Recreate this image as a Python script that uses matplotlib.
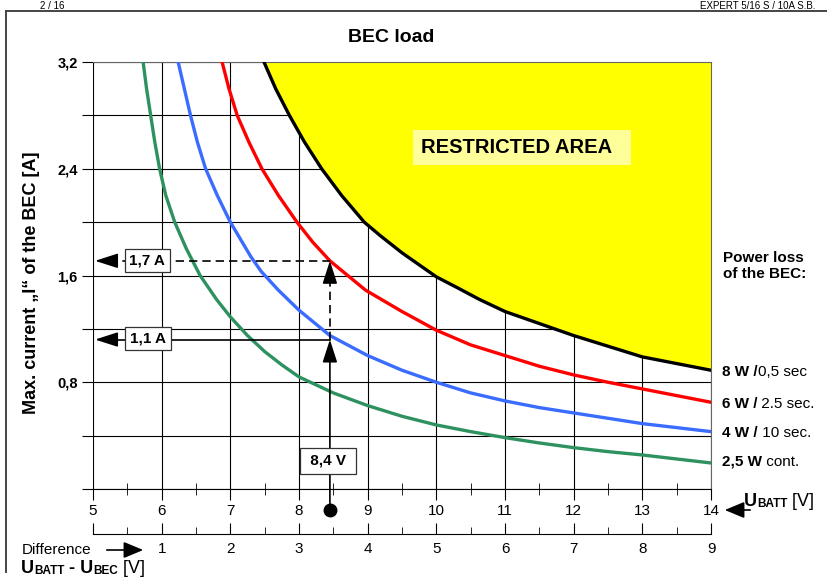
import matplotlib.pyplot as plt
from matplotlib.patches import FancyArrowPatch
from matplotlib.lines import Line2D

plt.rcParams['font.family'] = ['Liberation Sans', 'DejaVu Sans']

# battery voltage U_BATT [V] and max. BEC current [A]
u_green = [5.73, 5.78, 5.84, 5.90, 5.97, 6.06, 6.19, 6.36, 6.56, 6.8, 7.0, 7.25, 7.5, 7.75,
           8.0, 8.5, 9.0, 9.5, 10.0, 10.5, 11.0, 11.5, 12.0, 12.5, 13.0, 13.5, 14.0]
i_green = [3.2, 3.0, 2.8, 2.6, 2.4, 2.2, 2.0, 1.8, 1.6, 1.42, 1.29, 1.15, 1.03, 0.93,
           0.84, 0.72, 0.625, 0.545, 0.48, 0.43, 0.385, 0.345, 0.31, 0.28, 0.255, 0.225, 0.195]

u_blue = [6.24, 6.33, 6.42, 6.52, 6.64, 6.81, 7.0, 7.15, 7.3, 7.45, 7.7, 8.0, 8.45, 9.0,
          9.5, 10.0, 10.5, 11.0, 11.5, 12.0, 12.5, 13.0, 13.5, 14.0]
i_blue = [3.2, 3.0, 2.8, 2.6, 2.4, 2.2, 2.0, 1.87, 1.74, 1.63, 1.49, 1.34, 1.15, 1.0,
          0.89, 0.80, 0.72, 0.66, 0.61, 0.57, 0.53, 0.49, 0.46, 0.43]

u_red = [6.88, 6.98, 7.10, 7.27, 7.46, 7.70, 7.97, 8.2, 8.45, 8.97, 9.5, 10.0, 10.5, 11.0,
         11.5, 12.0, 12.5, 13.0, 13.5, 14.0]
i_red = [3.2, 3.0, 2.8, 2.6, 2.4, 2.2, 2.0, 1.85, 1.71, 1.49, 1.33, 1.19, 1.08, 1.0,
         0.92, 0.855, 0.80, 0.75, 0.70, 0.65]

u_black = [7.49, 7.66, 7.86, 8.08, 8.33, 8.62, 8.95, 9.18, 9.5, 10.0, 10.3, 10.63, 11.0,
           11.5, 12.0, 12.5, 13.0, 13.5, 14.0]
i_black = [3.2, 3.0, 2.8, 2.6, 2.4, 2.2, 2.0, 1.90, 1.77, 1.59, 1.51, 1.42, 1.33,
           1.24, 1.15, 1.07, 0.99, 0.94, 0.89]

u_bec = 5.0
x_ticks = [5, 6, 7, 8, 9, 10, 11, 12, 13, 14]
x_minor = [5.5, 6.5, 7.5, 8.5, 9.5, 10.5, 11.5, 12.5, 13.5]
y_ticks = [0, 0.4, 0.8, 1.2, 1.6, 2.0, 2.4, 2.8, 3.2]
y_labels = ['', '', '0,8', '', '1,6', '', '2,4', '', '3,2']
diff_ticks = [0, 1, 2, 3, 4, 5, 6, 7, 8, 9]
diff_labels = ['', '1', '2', '3', '4', '5', '6', '7', '8', '9']
diff_minor = [0.5, 1.5, 2.5, 3.5, 4.5, 5.5, 6.5, 7.5, 8.5]

# example reading: 8,4 V -> 1,1 A continuous / 1,7 A peak
u_example = 8.45
i_cont = 1.12
i_peak = 1.71
u_arrow_tip = 5.03

legend_rows = [('8 W /', '0,5 sec', 371), ('6 W /', ' 2.5 sec.', 403),
               ('4 W /', ' 10 sec.', 432), ('2,5 W', ' cont.', 461)]

W, H = 828, 583


def px(x, y):
    return (x / W, 1 - y / H)


def rich(ax, x, y, parts):
    prev = None
    for s, size, weight in parts:
        if prev is None:
            prev = ax.figure.text(*px(x, y), s, fontsize=size, fontweight=weight,
                                  ha='left', va='bottom')
        else:
            prev = ax.annotate(s, xy=(1, 0), xycoords=prev, fontsize=size,
                               fontweight=weight, ha='left', va='bottom',
                               annotation_clip=False)


fig = plt.figure(figsize=(W / 100, H / 100), dpi=100)
ax = fig.add_axes([93 / W, 94 / H, 618 / W, 427 / H])

ax.fill_between(u_black, i_black, 3.2, color='#ffff00', lw=0, zorder=1)
ax.plot(u_green, i_green, color='#2e9160', lw=2.4, zorder=3)
ax.plot(u_blue, i_blue, color='#3a6cff', lw=2.4, zorder=3)
ax.plot(u_red, i_red, color='#ff0000', lw=2.4, zorder=3)
ax.plot(u_black, i_black, color='black', lw=2.4, zorder=3)

ax.set_xlim(5, 14)
ax.set_ylim(0, 3.2)
ax.set_xticks(x_ticks, [str(t) for t in x_ticks])
ax.set_xticks(x_minor, minor=True)
ax.set_yticks(y_ticks, y_labels)
for lbl in ax.get_yticklabels():
    lbl.set_fontweight('bold')
ax.tick_params(axis='x', which='major', direction='out', length=8, pad=3, labelsize=11)
ax.tick_params(axis='x', which='minor', direction='inout', length=9)
ax.tick_params(axis='y', direction='out', length=8, pad=3, labelsize=10.5)
ax.grid(True, color='black', lw=0.8)
ax.set_axisbelow(True)
for side in ['top', 'right']:
    ax.spines[side].set_color('#666666')
ax.spines['left'].set_visible(False)

sec = ax.secondary_xaxis(-0.105, functions=(lambda u: u - u_bec, lambda d: d + u_bec))
sec.set_xticks(diff_ticks, diff_labels)
sec.set_xticks(diff_minor, minor=True)
sec.tick_params(which='major', direction='in', length=8, pad=6, labelsize=11)
sec.tick_params(which='minor', direction='in', length=5)

ax.text(9.78, 2.56, 'RESTRICTED AREA  ', fontsize=14.5, fontweight='bold',
        ha='left', va='center', zorder=4,
        bbox=dict(boxstyle='square,pad=0.4', fc='#ffff99', ec='none'))

# reading example arrows
head = dict(arrowstyle='-|>,head_length=1.4,head_width=0.45', color='black',
            lw=1.2, shrinkA=0, shrinkB=0, mutation_scale=10)
ax.plot([u_arrow_tip + 0.2, u_example], [i_peak, i_peak], color='black', lw=1.2,
        ls=(0, (5, 3)), zorder=4)
ax.annotate('', xy=(u_arrow_tip, i_peak), xytext=(u_arrow_tip + 0.28, i_peak),
            arrowprops=head, zorder=4)
ax.plot([u_arrow_tip + 0.2, u_example], [i_cont, i_cont], color='black', lw=1.2, zorder=4)
ax.annotate('', xy=(u_arrow_tip, i_cont), xytext=(u_arrow_tip + 0.28, i_cont),
            arrowprops=head, zorder=4)
ax.annotate('', xy=(u_example, i_cont), xytext=(u_example, -0.157),
            arrowprops=head, annotation_clip=False, zorder=4)
ax.plot([u_example, u_example], [i_cont, i_peak - 0.1], color='black', lw=1.2,
        ls=(0, (5, 3)), zorder=4)
ax.annotate('', xy=(u_example, i_peak), xytext=(u_example, i_peak - 0.145),
            arrowprops=head, zorder=4)
ax.plot([u_example], [-0.157], 'o', ms=9, color='black', clip_on=False, zorder=5)

box = dict(boxstyle='square,pad=0.3', fc='white', ec='#333333', lw=0.9)
ax.text(5.79, i_peak, '1,7 A', fontsize=11, fontweight='bold', ha='center',
        va='center', bbox=box, zorder=6)
ax.text(5.80, i_cont + 0.01, '1,1 A', fontsize=11, fontweight='bold', ha='center',
        va='center', bbox=box, zorder=6)
ax.text(8.42, 0.21, ' 8,4 V ', fontsize=11, fontweight='bold', ha='center',
        va='center', bbox=dict(boxstyle='square,pad=0.4', fc='white', ec='#333333', lw=0.9),
        zorder=6)

# titles and labels
fig.text(*px(391, 37), 'BEC load', fontsize=14, fontweight='bold', ha='center', va='center')
fig.text(*px(32, 283), 'Max. current \u201eI\u201c of the BEC [A]', fontsize=13,
         fontweight='bold', rotation=90, ha='center', va='center')
fig.text(*px(723, 266), 'Power loss\nof the BEC:', fontsize=11, fontweight='bold',
         ha='left', va='center', linespacing=1.2)
for bold, rest, y in legend_rows:
    rich(ax, 722, y + 8, [(bold, 11, 'bold'), (rest, 11, 'normal')])

rich(ax, 744, 510, [('U', 13, 'bold'), ('BATT', 8.5, 'bold'), (' [V]', 13, 'normal')])
fig.patches.append(FancyArrowPatch(px(753, 510), px(722, 510), transform=fig.transFigure,
                                   arrowstyle='-|>,head_length=1.2,head_width=0.5',
                                   mutation_scale=10, color='black', lw=1.2))
fig.text(*px(22, 550), 'Difference', fontsize=11, ha='left', va='center')
fig.patches.append(FancyArrowPatch(px(104, 550), px(146, 550), transform=fig.transFigure,
                                   arrowstyle='-|>,head_length=1.2,head_width=0.5',
                                   mutation_scale=10, color='black', lw=1.2))
rich(ax, 21, 577, [('U', 13, 'bold'), ('BATT', 8.5, 'bold'), (' - U', 13, 'bold'),
                   ('BEC', 8.5, 'bold'), (' [V]', 13, 'normal')])

# page frame and page header
fig.add_artist(Line2D([6 / W, 6 / W], [1 - 11 / H, 1 - 572 / H], color='#444444', lw=1.4))
fig.add_artist(Line2D([6 / W, 1], [1 - 11 / H, 1 - 11 / H], color='#444444', lw=1.4))
fig.text(*px(40, 1), '2 / 16', fontsize=7, ha='left', va='top')
fig.text(*px(815, 1), 'EXPERT 5/16 S / 10A S.B.', fontsize=7, ha='right', va='top')

fig.savefig('out.png', dpi=100)
